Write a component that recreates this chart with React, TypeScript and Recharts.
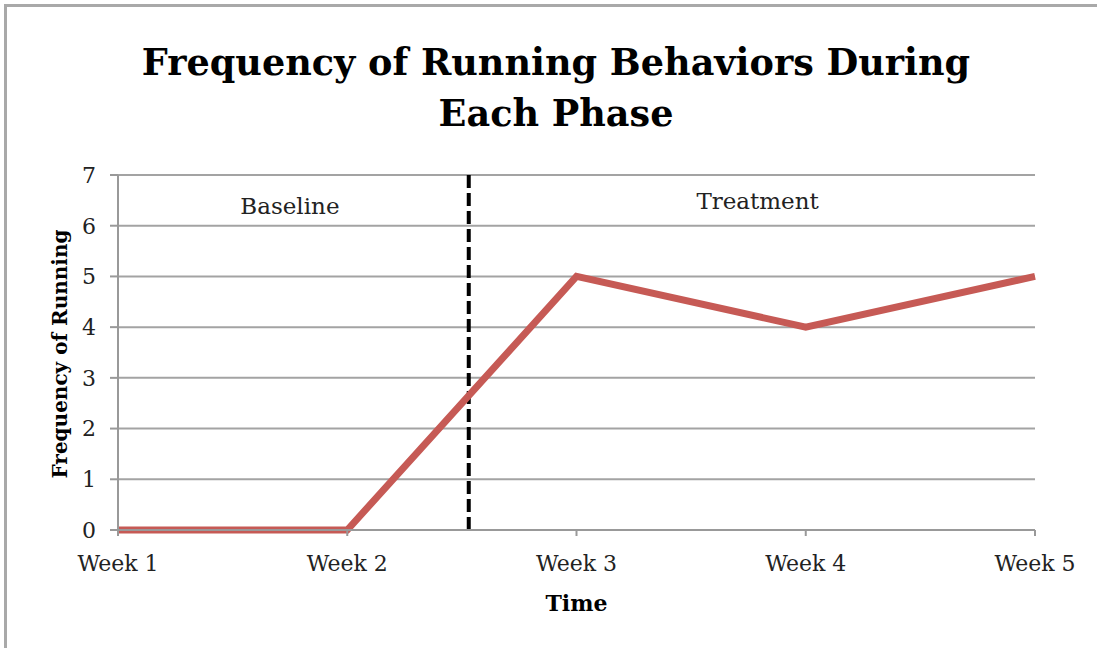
import { LineChart, Line, XAxis, YAxis, CartesianGrid, ReferenceLine, ReferenceDot } from 'recharts';

const weeks = ['Week 1', 'Week 2', 'Week 3', 'Week 4', 'Week 5'];
const running = [0, 0, 5, 4, 5];
const yTicks = [0, 1, 2, 3, 4, 5, 6, 7];
// phase change sits a bit past the midpoint between week 2 and week 3
const phaseChange = 1.53;
const phaseLabels = [
  { text: 'Baseline', x: 0.75, y: 6.4 },
  { text: 'Treatment', x: 2.79, y: 6.49 },
];

const data = weeks.map((w, i) => ({ idx: i, week: w, value: running[i] }));

const font = '"DejaVu Serif", serif';

export default function App() {
  return (
    <div style={{ position: 'absolute', left: 0, top: 0, width: 1097, height: 648, overflow: 'hidden', background: '#fff', fontFamily: font }}>
      <div style={{ position: 'absolute', left: 4, top: 4, width: 1200, height: 800, border: '3px solid #a9a9a9', boxSizing: 'border-box' }} />
      <div style={{ position: 'absolute', left: 0, top: 37, width: 1112, textAlign: 'center', fontWeight: 'bold', fontSize: 36.6, lineHeight: '51px', color: '#000' }}>
        Frequency of Running Behaviors During
        <br />
        Each Phase
      </div>
      <div style={{ position: 'absolute', left: 0, top: 0 }}>
        <LineChart width={1097} height={648} data={data} margin={{ top: 175, right: 62, bottom: 70, left: 68 }}>
          <CartesianGrid vertical={false} stroke="#a3a3a3" strokeWidth={2} />
          <XAxis
            dataKey="idx"
            type="number"
            domain={[0, weeks.length - 1]}
            ticks={weeks.map((_, i) => i)}
            tickFormatter={(i: number) => weeks[i]}
            height={48}
            stroke="#999"
            strokeWidth={2}
            tickSize={6}
            tickMargin={19}
            tick={{ fill: '#222', fontSize: 22, fontFamily: font }}
            label={{ value: 'Time', position: 'insideBottom', offset: -33, fill: '#000', fontSize: 22, fontWeight: 'bold', fontFamily: font }}
          />
          <YAxis
            domain={[0, 7]}
            ticks={yTicks}
            width={50}
            stroke="#999"
            strokeWidth={2}
            tickSize={8}
            tickMargin={14}
            tick={{ fill: '#222', fontSize: 22, fontFamily: font }}
            label={{ value: 'Frequency of Running', angle: -90, position: 'insideLeft', offset: -8, dy: 126, fill: '#000', fontSize: 20, fontWeight: 'bold', fontFamily: font }}
          />
          <ReferenceLine x={phaseChange} stroke="#000" strokeWidth={4} strokeDasharray="13 5" />
          {phaseLabels.map((p) => (
            <ReferenceDot
              key={p.text}
              x={p.x}
              y={p.y}
              r={0}
              stroke="none"
              label={{ value: p.text, position: 'center', fill: '#222', fontSize: 23, fontFamily: font }}
            />
          ))}
          <Line
            type="linear"
            dataKey="value"
            stroke="#c65a55"
            strokeWidth={7}
            dot={false}
            isAnimationActive={false}
          />
        </LineChart>
      </div>
    </div>
  );
}
